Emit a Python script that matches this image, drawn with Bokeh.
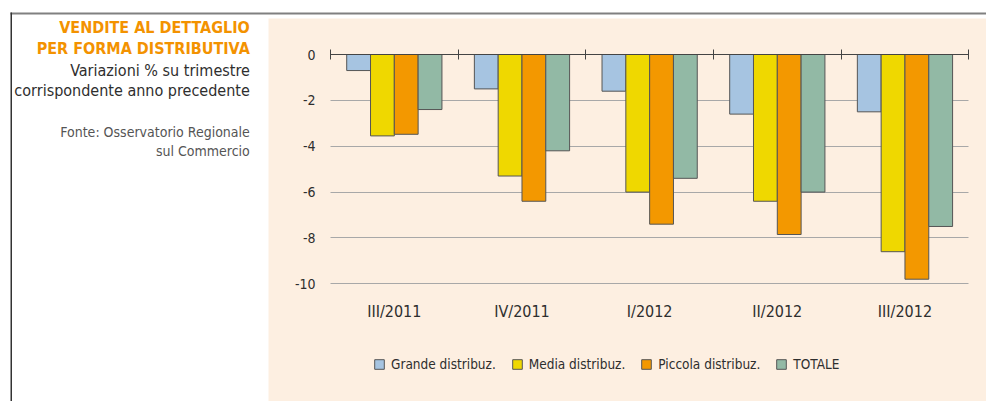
from bokeh.plotting import figure
from bokeh.models import (LinearAxis, FixedTicker, Grid, Legend, LegendItem, Label,
                          BoxAnnotation, Range1d)
from bokeh.embed import file_html
from bokeh.resources import INLINE

# ---- data ----
periods = ["III/2011", "IV/2011", "I/2012", "II/2012", "III/2012"]
series_names = ["Grande distribuz.", "Media distribuz.", "Piccola distribuz.", "TOTALE"]
grande = [-0.7, -1.5, -1.6, -2.6, -2.5]
media = [-3.55, -5.3, -6.0, -6.4, -8.6]
piccola = [-3.48, -6.4, -7.4, -7.85, -9.8]
totale = [-2.4, -4.2, -5.4, -6.0, -7.5]
y_ticks = [0, -2, -4, -6, -8, -10]
grid_ticks = [-2, -4, -6, -8, -10]

title_lines = ["VENDITE AL DETTAGLIO", "PER FORMA DISTRIBUTIVA"]
subtitle_lines = ["Variazioni % su trimestre", "corrispondente anno precedente"]
source_lines = ["Fonte: Osservatorio Regionale", "sul Commercio"]

# ---- style ----
colors = ["#a6c4e1", "#efd800", "#f39800", "#92b9a5"]
PEACH = "#fdefe1"
FONT = "DejaVu Sans Condensed"
TXT = "#2e2e2e"

p = figure(width=986, height=401, output_backend="svg", toolbar_location=None,
           x_range=Range1d(-2.585, 5.1387), y_range=Range1d(-15.133, 2.355),
           x_axis_location=None, y_axis_location=None,
           min_border_left=0, min_border_right=0, min_border_top=0, min_border_bottom=0,
           background_fill_color="white", border_fill_color="white", outline_line_color=None)
p.xgrid.visible = False
p.ygrid.visible = False

# peach chart panel (screen units, y measured from bottom)
p.add_layout(BoxAnnotation(left=268, right=1000, top=383, bottom=-10, level="image",
                           left_units="screen", right_units="screen", top_units="screen", bottom_units="screen",
                           fill_color=PEACH, fill_alpha=1, line_color=None))

grid = Grid(dimension=1, ticker=FixedTicker(ticks=grid_ticks), cross_bounds=(0, len(periods)),
            grid_line_color="#a8a8a8", grid_line_width=1)
p.add_layout(grid)

bw = 0.1865
centers = [i + 0.5 for i in range(len(periods))]
renderers = []
for k, (vals, col) in enumerate(zip([grande, media, piccola, totale], colors)):
    xs = [c + (k - 1.5) * bw for c in centers]
    r = p.vbar(x=xs, top=0, bottom=vals, width=bw, fill_color=col,
               line_color="#555555", line_width=1)
    renderers.append(r)

# y axis (labels inside panel)
yaxis = LinearAxis(fixed_location=0, ticker=FixedTicker(ticks=y_ticks),
                   major_label_overrides={t: str(t) for t in y_ticks},
                   axis_line_color=None, major_tick_line_color=None, minor_tick_line_color=None,
                   major_tick_in=0, major_tick_out=0, major_label_standoff=15,
                   major_label_text_font=FONT, major_label_text_font_size="14px",
                   major_label_text_color=TXT)
p.add_layout(yaxis, "left")

# zero line with category separator ticks
bounds_ticks = list(range(len(periods) + 1))
zaxis = LinearAxis(fixed_location=0, ticker=FixedTicker(ticks=bounds_ticks), bounds=(0, len(periods)),
                   axis_line_color="#444444", axis_line_width=1.2,
                   major_tick_in=5, major_tick_out=5, major_tick_line_color="#444444",
                   minor_tick_line_color=None,
                   major_label_overrides={t: "" for t in bounds_ticks})
p.add_layout(zaxis, "below")

# category labels
caxis = LinearAxis(fixed_location=-10, ticker=FixedTicker(ticks=centers),
                   major_label_overrides={c: lbl for c, lbl in zip(centers, periods)},
                   axis_line_color=None, major_tick_line_color=None, minor_tick_line_color=None,
                   major_tick_in=0, major_tick_out=0, major_label_standoff=18,
                   major_label_text_font=FONT, major_label_text_font_size="16px",
                   major_label_text_color=TXT)
p.add_layout(caxis, "below")

legend = Legend(items=[LegendItem(label=n, renderers=[r]) for n, r in zip(series_names, renderers)],
                orientation="horizontal", location=(373, 29), padding=0, margin=0, spacing=15,
                glyph_width=12, glyph_height=12, label_height=12, label_standoff=6,
                label_text_font=FONT, label_text_font_size="13.5px", label_text_color=TXT,
                background_fill_alpha=0, border_line_color=None)
p.add_layout(legend)

# frame lines
p.add_layout(BoxAnnotation(left=10, right=1000, top=389, bottom=387, level="overlay",
                           left_units="screen", right_units="screen", top_units="screen", bottom_units="screen",
                           fill_color="#808080", fill_alpha=1, line_color=None))
p.add_layout(BoxAnnotation(left=10, right=11.5, top=389, bottom=-10, level="overlay",
                           left_units="screen", right_units="screen", top_units="screen", bottom_units="screen",
                           fill_color="#333333", fill_alpha=1, line_color=None))

# texts on the left
for txt, y in zip(title_lines, [374.5, 353.5]):
    p.add_layout(Label(x=249.3, y=y, x_units="screen", y_units="screen", text=txt,
                       text_align="right", text_baseline="alphabetic", text_font=FONT,
                       text_font_size="16px", text_font_style="bold", text_color="#f39200"))
for txt, y in zip(subtitle_lines, [331, 311.3]):
    p.add_layout(Label(x=249.3, y=y, x_units="screen", y_units="screen", text=txt,
                       text_align="right", text_baseline="alphabetic", text_font=FONT,
                       text_font_size="16px", text_color=TXT))
for txt, y in zip(source_lines, [270, 251]):
    p.add_layout(Label(x=249.3, y=y, x_units="screen", y_units="screen", text=txt,
                       text_align="right", text_baseline="alphabetic", text_font=FONT,
                       text_font_size="14px", text_color="#555555"))

open("out.html", "w").write(file_html(p, INLINE))
